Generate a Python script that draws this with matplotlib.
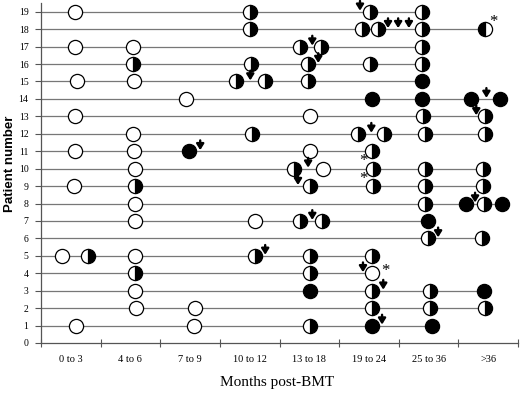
import matplotlib
matplotlib.use("Agg")
import matplotlib.pyplot as plt

# x positions are in "category units": category i spans [i, i+1]
periods = ["0 to 3", "4 to 6", "7 to 9", "10 to 12", "13 to 18", "19 to 24", "25 to 36", ">36"]
patients = list(range(0, 20))

# (patient, position)
open_pts = [(19, 0.57), (17, 0.57), (17, 1.54), (15, 0.60), (15, 1.56), (14, 2.43),
            (13, 0.57), (13, 4.51), (12, 1.54), (11, 0.57), (11, 1.56), (11, 4.51),
            (10, 1.58), (10, 4.73), (9, 0.55), (8, 1.58), (7, 1.58), (7, 3.59),
            (5, 0.35), (5, 1.58), (4, 5.55), (3, 1.58), (2, 1.59), (2, 2.58),
            (1, 0.59), (1, 2.57)]

half_pts = [(19, 3.51), (19, 5.52), (19, 6.39),
            (18, 3.51), (18, 5.39), (18, 5.65), (18, 6.39),
            (17, 4.35), (17, 4.70), (17, 6.39),
            (16, 1.54), (16, 3.52), (16, 4.48), (16, 5.52), (16, 6.39),
            (15, 3.27), (15, 3.76), (15, 4.48),
            (13, 6.40), (13, 7.45),
            (12, 3.54), (12, 5.32), (12, 5.76), (12, 6.44), (12, 7.45),
            (11, 5.55),
            (10, 4.24), (10, 5.57), (10, 6.44), (10, 7.42),
            (9, 1.58), (9, 4.51), (9, 5.57), (9, 6.44), (9, 7.42),
            (8, 6.44), (8, 7.43),
            (7, 4.35), (7, 4.71),
            (6, 6.49), (6, 7.40),
            (5, 0.79), (5, 3.59), (5, 4.51), (5, 5.55),
            (4, 1.58), (4, 4.51),
            (3, 5.55), (3, 6.53),
            (2, 5.55), (2, 6.53), (2, 7.45),
            (1, 4.51)]

half_left_pts = [(18, 7.45)]

filled_pts = [(15, 6.39), (14, 5.55), (14, 6.39), (14, 7.21), (14, 7.70), (11, 2.48),
              (8, 7.13), (8, 7.73), (7, 6.49), (3, 4.51), (3, 7.43), (1, 5.55), (1, 6.56)]

arrow_pts = [(19, 5.35), (18, 5.82), (18, 5.99), (18, 6.17), (17, 4.55), (16, 4.65),
             (15, 3.51), (14, 7.47), (13, 7.30), (12, 5.54), (11, 2.67), (10, 4.48),
             (9, 4.31), (8, 7.28), (7, 4.55), (6, 6.66), (5, 3.76), (4, 5.40),
             (3, 5.74), (1, 5.72)]

# asterisks (position, height)
star_pts = [(7.58, 18.42), (5.40, 10.45), (5.40, 9.42), (5.78, 4.15)]

fig = plt.figure(figsize=(5.2, 3.94), dpi=100)
ax = fig.add_axes([41 / 520, 51 / 394, 477 / 520, 340 / 394])
ax.set_xlim(0, 8)
ax.set_ylim(0, 19.5)

# row lines run from the axis to the last visit of each patient
all_pts = open_pts + half_pts + half_left_pts + filled_pts
for p in patients[1:]:
    xs = [x for (q, x) in all_pts if q == p]
    if xs:
        ax.plot([0, max(xs)], [p, p], color="#777777", lw=0.9, zorder=1)

ms = 10.2
mew = 0.9
ax.plot([x for p, x in open_pts], [p for p, x in open_pts], "o", ms=ms, mew=mew,
        mfc="white", mec="black", zorder=3)
ax.plot([x for p, x in half_pts], [p for p, x in half_pts], "o", ms=ms, mew=mew,
        fillstyle="right", mfc="black", markerfacecoloralt="white", mec="black", zorder=3)
ax.plot([x for p, x in half_left_pts], [p for p, x in half_left_pts], "o", ms=ms, mew=mew,
        fillstyle="left", mfc="black", markerfacecoloralt="white", mec="black", zorder=3)
ax.plot([x for p, x in filled_pts], [p for p, x in filled_pts], "o", ms=ms, mew=mew,
        mfc="black", mec="black", zorder=3)

for p, x in arrow_pts:
    ax.annotate("", xy=(x, p + 0.06), xytext=(x, p + 0.62),
                arrowprops=dict(arrowstyle="-|>,head_length=0.35,head_width=0.22",
                                color="black", lw=1.7, shrinkA=0, shrinkB=0),
                zorder=4)

for x, y in star_pts:
    ax.text(x, y, "*", ha="center", va="center", fontsize=12,
            family="Liberation Serif", zorder=4)

for s in ["top", "right"]:
    ax.spines[s].set_visible(False)
for s in ["left", "bottom"]:
    ax.spines[s].set_color("#555555")
    ax.spines[s].set_linewidth(0.9)

ax.set_xticks(range(0, 9))
ax.set_xticklabels([])
ax.set_xticks([i + 0.5 for i in range(8)], minor=True)
ax.set_xticklabels(periods, minor=True, family="Liberation Serif", fontsize=7.5)
ax.tick_params(axis="x", which="major", direction="inout", length=6, width=0.8, color="#555555")
ax.tick_params(axis="x", which="minor", length=0, pad=9)

ax.set_yticks(patients)
ax.set_yticklabels([str(p) for p in patients], family="Liberation Serif", fontsize=7)
ax.tick_params(axis="y", direction="out", length=4, width=0.8, color="#555555", pad=5)

ax.set_xlabel("Months post-BMT", family="Liberation Serif", fontsize=11)
ax.xaxis.set_label_coords(0.495, -0.098)
ax.set_ylabel("Patient number", family="Liberation Sans", fontweight="bold", fontsize=9.5)
ax.yaxis.set_label_coords(-0.053, 0.526)

fig.savefig("out.png", dpi=100)
